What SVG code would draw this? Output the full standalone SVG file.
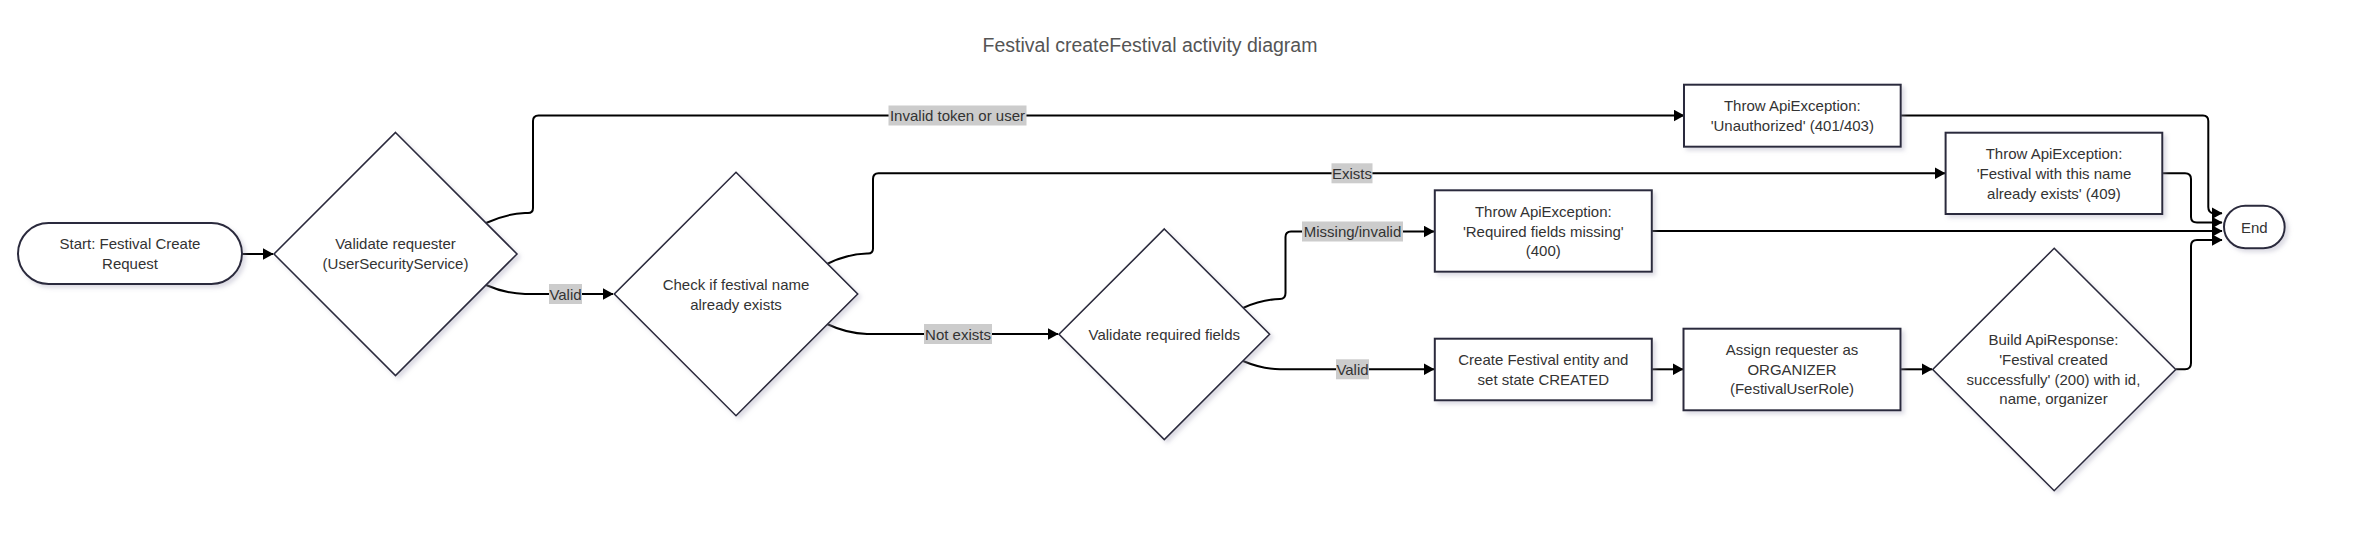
<svg xmlns="http://www.w3.org/2000/svg" width="2362" height="534" viewBox="0 0 2362 534">
<defs>
<marker id="arrow" viewBox="0 0 11 12" refX="10.5" refY="6" markerWidth="11" markerHeight="12" markerUnits="userSpaceOnUse" orient="auto">
<path d="M0,0 L11,6 L0,12 z" fill="#000"/>
</marker>
<filter id="shadow" x="-10%" y="-10%" width="130%" height="130%">
<feDropShadow dx="3" dy="3" stdDeviation="2" flood-color="#9a98b0" flood-opacity="0.35"/>
</filter>
<style>
.node{fill:#fff;stroke:#2c2b3d;stroke-width:2;filter:url(#shadow)}
.dia{fill:#fff;stroke:#2c2b3d;stroke-width:1.6;filter:url(#shadow)}
.t{font-family:"Liberation Sans",Arial,sans-serif;font-size:15px;fill:#333;text-anchor:middle;dominant-baseline:central}
.edge{fill:none;stroke:#000;stroke-width:2}
.lbg{fill:#cccccc}
.title{font-family:"Liberation Sans",Arial,sans-serif;font-size:19.5px;fill:#555;text-anchor:middle;dominant-baseline:central}
</style>
</defs>
<rect width="2362" height="534" fill="#fff"/>
<text class="title" x="1150" y="45">Festival createFestival activity diagram</text>

<g id="connectors">
<path class="edge" marker-end="url(#arrow)" d="M242,254 L273,254"/>
<path class="edge" marker-end="url(#arrow)" d="M486,223 Q505,214 525,213 L528,213 Q533,213 533,208 L533,121 Q533,115.5 538.5,115.5 L1684,115.5"/>
<path class="edge" marker-end="url(#arrow)" d="M486,285 Q505,293.5 525,294 L613,294"/>
<path class="edge" marker-end="url(#arrow)" d="M827,264 Q847,254 867,253.5 L868,253.5 Q873,253.5 873,248.5 L873,179 Q873,173.3 878.5,173.3 L1945,173.3"/>
<path class="edge" marker-end="url(#arrow)" d="M827,324 Q847,333.5 867,334 L1058,334"/>
<path class="edge" marker-end="url(#arrow)" d="M1243,308 Q1262,299.5 1280,299 Q1285.5,299 1285.5,293 L1285.5,237 Q1285.5,231.5 1291,231.5 L1434,231.5"/>
<path class="edge" marker-end="url(#arrow)" d="M1243,361 Q1262,369 1280,369.3 L1434,369.3"/>
<path class="edge" marker-end="url(#arrow)" d="M1652,369.3 L1683,369.3"/>
<path class="edge" marker-end="url(#arrow)" d="M1900.5,369.3 L1932,369.3"/>
<path class="edge" marker-end="url(#arrow)" d="M1900.7,115.5 L2203,115.5 Q2208.3,115.5 2208.3,121 L2208.3,207 Q2208.3,213.3 2214,213.3 L2222,213.3"/>
<path class="edge" marker-end="url(#arrow)" d="M2162.3,173.3 L2185,173.3 Q2191,173.3 2191,179 L2191,217 Q2191,222.5 2197,222.5 L2222,222.5"/>
<path class="edge" marker-end="url(#arrow)" d="M1652,231 L2222,231"/>
<path class="edge" marker-end="url(#arrow)" d="M2175.7,369.3 L2185,369.3 Q2191,369.3 2191,363 L2191,246 Q2191,240 2197,240 L2222,240"/>

<rect class="lbg" x="888.5" y="105.5" width="138" height="20"/>
<text class="t" x="957.5" y="115.5">Invalid token or user</text>
<rect class="lbg" x="549" y="284" width="33" height="20"/>
<text class="t" x="565.5" y="294">Valid</text>
<rect class="lbg" x="1331.5" y="163.3" width="41" height="20"/>
<text class="t" x="1352" y="173.3">Exists</text>
<rect class="lbg" x="924" y="324" width="68" height="20"/>
<text class="t" x="958" y="334">Not exists</text>
<rect class="lbg" x="1302" y="221.5" width="101" height="20"/>
<text class="t" x="1352.5" y="231.5">Missing/invalid</text>
<rect class="lbg" x="1336" y="359.3" width="33" height="20"/>
<text class="t" x="1352.5" y="369.3">Valid</text>
</g>

<g id="start">
<rect class="node" x="18" y="223" width="224" height="61" rx="30.5" ry="30.5"/>
<text class="t" x="130" y="243.5">Start: Festival Create</text>
<text class="t" x="130" y="263.5">Request</text>
</g>

<g id="validateRequester">
<polygon class="dia" points="395.5,132.5 517,254 395.5,375.5 274,254"/>
<text class="t" x="395.5" y="243.5">Validate requester</text>
<text class="t" x="395.5" y="263.5">(UserSecurityService)</text>
</g>

<g id="checkExists">
<polygon class="dia" points="736,172.3 857.7,294 736,415.7 614.3,294"/>
<text class="t" x="736" y="284.5">Check if festival name</text>
<text class="t" x="736" y="304">already exists</text>
</g>

<g id="validateFields">
<polygon class="dia" points="1164.3,229 1269.6,334.3 1164.3,439.6 1059,334.3"/>
<text class="t" x="1164.3" y="334.3">Validate required fields</text>
</g>

<g id="unauthorized">
<rect class="node" x="1684" y="84.7" width="216.7" height="62"/>
<text class="t" x="1792.3" y="105.5">Throw ApiException:</text>
<text class="t" x="1792.3" y="125.5">'Unauthorized' (401/403)</text>
</g>

<g id="nameExists">
<rect class="node" x="1945.6" y="132.7" width="216.7" height="81.3"/>
<text class="t" x="2054" y="153.5">Throw ApiException:</text>
<text class="t" x="2054" y="173.5">'Festival with this name</text>
<text class="t" x="2054" y="193">already exists' (409)</text>
</g>

<g id="fieldsMissing">
<rect class="node" x="1434.8" y="190.3" width="217" height="81.4"/>
<text class="t" x="1543.3" y="211.5">Throw ApiException:</text>
<text class="t" x="1543.3" y="231">'Required fields missing'</text>
<text class="t" x="1543.3" y="250.5">(400)</text>
</g>

<g id="createEntity">
<rect class="node" x="1434.8" y="338.7" width="217" height="61.6"/>
<text class="t" x="1543.3" y="359.3">Create Festival entity and</text>
<text class="t" x="1543.3" y="379.3">set state CREATED</text>
</g>

<g id="assignOrganizer">
<rect class="node" x="1683.5" y="328.7" width="217" height="81.6"/>
<text class="t" x="1792" y="349.3">Assign requester as</text>
<text class="t" x="1792" y="369.3">ORGANIZER</text>
<text class="t" x="1792" y="388.5">(FestivalUserRole)</text>
</g>

<g id="buildResponse">
<polygon class="dia" points="2054.2,248.3 2175.7,369.5 2054.2,490.7 1932.7,369.5"/>
<text class="t" x="2053.5" y="339.3">Build ApiResponse:</text>
<text class="t" x="2053.5" y="359.3">'Festival created</text>
<text class="t" x="2053.5" y="379">successfully' (200) with id,</text>
<text class="t" x="2053.5" y="398.5">name, organizer</text>
</g>

<g id="end">
<rect class="node" x="2224" y="205.7" width="60.7" height="42.6" rx="21.3" ry="21.3"/>
<text class="t" x="2254.3" y="227">End</text>
</g>
</svg>
